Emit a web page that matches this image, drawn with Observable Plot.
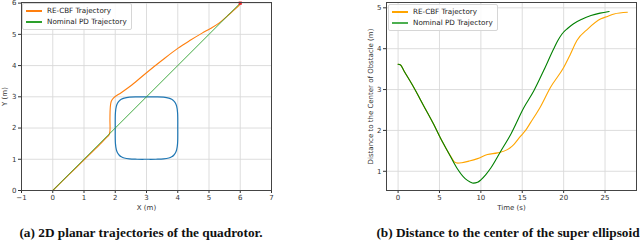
<!DOCTYPE html>
<html>
<head>
<meta charset="utf-8">
<script src="https://cdn.jsdelivr.net/npm/d3@7"></script>
<script src="https://cdn.jsdelivr.net/npm/@observablehq/plot@0.6"></script>
<style>
  body { margin: 0; background: #fff; }
  #wrap { position: relative; width: 640px; height: 241px; overflow: hidden; font-family: "DejaVu Sans", sans-serif; }
  .panel { position: absolute; top: 0; }
  .legend { position: absolute; border: 1px solid #d6d6d6; border-radius: 2px; background: rgba(255,255,255,0.85); font-size: 7.2px; color: #222; padding: 2px 4px 2px 3px; line-height: 10.5px; }
  .legend .it { display: flex; align-items: center; white-space: nowrap; }
  .legend .sw { width: 16px; height: 1.6px; margin-right: 5px; }
  .cap { position: absolute; top: 225px; font-family: "Liberation Serif", "Times New Roman", serif; font-weight: bold; font-size: 13.3px; color: #111; white-space: nowrap; transform: translateX(-50%); }
</style>
</head>
<body>
<div id="wrap"></div>
<script>
// ---------- Left panel: 2D planar trajectories ----------
const reX = [0, 0.5, 1.0, 1.5, 1.7, 1.8, 1.83, 1.83, 1.84, 1.87, 1.94, 2.2, 2.53, 3.01, 3.5, 4.0, 4.4, 4.78, 5.05, 5.32, 5.6, 5.86, 6.0];
const reY = [0, 0.49, 0.98, 1.47, 1.68, 1.78, 1.9, 2.3, 2.65, 2.85, 2.96, 3.14, 3.38, 3.78, 4.17, 4.55, 4.81, 5.04, 5.19, 5.36, 5.6, 5.83, 5.97];
const pdX = [0, 1, 2, 3, 4, 5, 6];
const pdY = [0, 1, 2, 3, 4, 5, 6];
const obsX = [4.0, 3.9937, 3.964, 3.9236, 3.871, 3.806, 3.714, 3.547, 3.3, 3.0, 2.7, 2.453, 2.286, 2.194, 2.129, 2.0764, 2.036, 2.0063, 2.0, 2.0063, 2.036, 2.0764, 2.129, 2.194, 2.286, 2.453, 2.7, 3.0, 3.3, 3.547, 3.714, 3.806, 3.871, 3.9236, 3.964, 3.9937, 4.0];
const obsY = [2.0, 2.5, 2.7, 2.8, 2.87, 2.92, 2.96, 2.99, 2.999, 3.0, 2.999, 2.99, 2.96, 2.92, 2.87, 2.8, 2.7, 2.5, 2.0, 1.5, 1.3, 1.2, 1.13, 1.08, 1.04, 1.01, 1.001, 1.0, 1.001, 1.01, 1.04, 1.08, 1.13, 1.2, 1.3, 1.5, 2.0];
const goal = {x: 6, y: 6};
const xTicksA = [-1, 0, 1, 2, 3, 4, 5, 6, 7];
const yTicksA = [0, 1, 2, 3, 4, 5, 6];

// ---------- Right panel: distance to obstacle centre ----------
const pdT = [0, 0.3, 0.7, 1.9, 3.1, 4.3, 5.1, 6.1, 7.1, 8.1, 8.7, 9.1, 9.6, 10.0, 10.6, 11.2, 12.4, 13.6, 15.2, 16.4, 17.6, 18.8, 19.3, 19.8, 20.5, 21.2, 22.2, 23.3, 24.4, 25.5];
const pdD = [3.62, 3.60, 3.46, 3.05, 2.6, 2.15, 1.82, 1.45, 1.08, 0.82, 0.74, 0.71, 0.73, 0.79, 0.92, 1.08, 1.49, 1.90, 2.56, 2.97, 3.47, 4.0, 4.2, 4.36, 4.50, 4.61, 4.72, 4.81, 4.87, 4.91];
const reT = [0, 0.3, 0.7, 1.9, 3.1, 4.3, 5.1, 6.1, 6.5, 6.8, 7.2, 7.7, 8.6, 9.6, 10.8, 12.0, 13.2, 14.0, 14.8, 15.4, 16.0, 17.2, 18.4, 20.0, 20.8, 21.6, 22.9, 24.5, 25.3, 26.1, 27.7];
const reD = [3.62, 3.60, 3.46, 3.05, 2.6, 2.15, 1.82, 1.45, 1.32, 1.23, 1.20, 1.21, 1.25, 1.31, 1.41, 1.45, 1.53, 1.66, 1.86, 2.0, 2.19, 2.58, 3.05, 3.54, 3.86, 4.2, 4.48, 4.73, 4.79, 4.85, 4.89];
const xTicksB = [0, 5, 10, 15, 20, 25];
const yTicksB = [1, 2, 3, 4, 5];

const legendLabels = ["RE-CBF Trajectory", "Nominal PD Trajectory"];
const captions = ["(a) 2D planar trajectories of the quadrotor.", "(b) Distance to the center of the super ellipsoid"];

const zip = (xs, ys) => xs.map((x, i) => ({x, y: ys[i]}));
const wrap = document.getElementById("wrap");
const gridStyle = {stroke: "#d9d9d9", strokeOpacity: 1, strokeWidth: 0.9};
const tickFont = {fontSize: 7, fill: "#333"};

const left = Plot.plot({
  width: 275, height: 212,
  marginLeft: 21, marginRight: 4, marginTop: 2, marginBottom: 22,
  style: {fontFamily: "DejaVu Sans, sans-serif", fontSize: "7px", color: "#333", background: "transparent"},
  x: {domain: [-1, 7]},
  y: {domain: [0, 6.02]},
  marks: [
    Plot.gridX(xTicksA, gridStyle),
    Plot.gridY(yTicksA, gridStyle),
    Plot.axisX(xTicksA, {tickSize: 3, tickPadding: 2, ...tickFont, label: "X (m)", labelAnchor: "center", labelArrow: "none", labelOffset: 19, tickFormat: d => d < 0 ? "\u2212" + Math.abs(d) : d}),
    Plot.axisY(yTicksA, {tickSize: 3, tickPadding: 2, ...tickFont, label: "Y (m)", labelAnchor: "center", labelArrow: "none", labelOffset: 19}),
    Plot.line(zip(obsX, obsY), {x: "x", y: "y", stroke: "#1f77b4", strokeWidth: 1.2, curve: "catmull-rom"}),
    Plot.line(zip(reX, reY), {x: "x", y: "y", stroke: "#ff7f0e", strokeWidth: 1.1, curve: "catmull-rom"}),
    Plot.line(zip(pdX, pdY), {x: "x", y: "y", stroke: "#2ca02c", strokeWidth: 0.9}),
    Plot.dot([goal], {x: "x", y: "y", symbol: "square", r: 1.8, fill: "#e8202a", stroke: "none"}),
    Plot.frame({stroke: "#444", strokeWidth: 1})
  ]
});
left.classList.add("panel");
left.style.left = "0px";
wrap.appendChild(left);

const right = Plot.plot({
  width: 320, height: 212,
  marginLeft: 66, marginRight: 4, marginTop: 2, marginBottom: 22,
  style: {fontFamily: "DejaVu Sans, sans-serif", fontSize: "7px", color: "#333", background: "transparent"},
  x: {domain: [-1.4, 28.8]},
  y: {domain: [0.53, 5.13]},
  marks: [
    Plot.gridX(xTicksB, gridStyle),
    Plot.gridY(yTicksB, gridStyle),
    Plot.axisX(xTicksB, {tickSize: 3, tickPadding: 2, ...tickFont, label: "Time (s)", labelAnchor: "center", labelArrow: "none", labelOffset: 19}),
    Plot.axisY(yTicksB, {tickSize: 3, tickPadding: 2, ...tickFont, label: "Distance to the Center of Obstacle (m)", labelAnchor: "center", labelArrow: "none", labelOffset: 18}),
    Plot.line(zip(reT, reD), {x: "x", y: "y", stroke: "#ffa500", strokeWidth: 1.1, curve: "monotone-x"}),
    Plot.line(zip(pdT, pdD), {x: "x", y: "y", stroke: "#008000", strokeWidth: 1.1, curve: "monotone-x"}),
    Plot.frame({stroke: "#444", strokeWidth: 1})
  ]
});
right.classList.add("panel");
right.style.left = "320px";
wrap.appendChild(right);

function legend(x, y, colors) {
  const d = document.createElement("div");
  d.className = "legend";
  d.style.left = x + "px";
  d.style.top = y + "px";
  legendLabels.forEach((lab, i) => {
    const it = document.createElement("div");
    it.className = "it";
    const sw = document.createElement("span");
    sw.className = "sw";
    sw.style.background = colors[i];
    const t = document.createElement("span");
    t.textContent = lab;
    it.appendChild(sw); it.appendChild(t);
    d.appendChild(it);
  });
  wrap.appendChild(d);
}
legend(22, 3, ["#ff7f0e", "#2ca02c"]);
legend(388, 4, ["#ffa500", "#4caf50"]);

[[141, captions[0]], [508, captions[1]]].forEach(([cx, txt]) => {
  const c = document.createElement("div");
  c.className = "cap";
  c.style.left = cx + "px";
  c.textContent = txt;
  wrap.appendChild(c);
});
</script>
</body>
</html>
